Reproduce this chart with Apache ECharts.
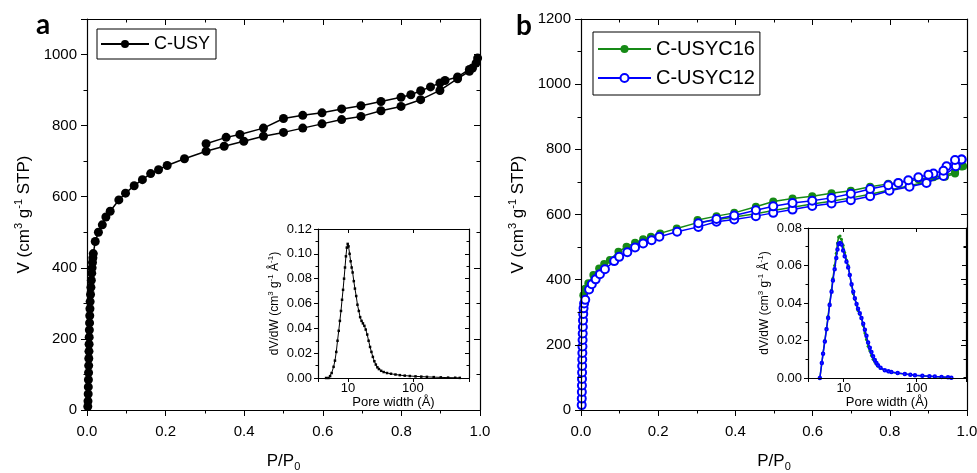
<!DOCTYPE html>
<html><head><meta charset="utf-8">
<script src="https://cdn.jsdelivr.net/npm/echarts@6/dist/echarts.min.js"></script>
<style>html,body{margin:0;padding:0;background:#fff}#c{width:977px;height:473px}</style>
</head><body><div id="c"></div>
<script>
// ---------- Panel a : C-USY isotherm ----------
const aAdsP = [0.002,0.0025,0.003,0.0033,0.0036,0.004,0.0043,0.0046,0.005,0.0053,0.0056,0.006,0.0065,0.007,0.0075,0.008,0.009,0.010,0.011,0.012,0.013,0.014,0.015,0.016,
  0.021,0.029,0.039,0.048,0.059,0.081,0.098,0.120,0.141,0.162,0.182,0.204,0.248,0.303,0.349,0.399,0.449,0.500,0.549,0.598,0.648,0.697,0.748,0.799,0.849,0.898,0.943,0.973,0.990];
const aAdsV = [10,25,45,65,85,105,125,145,165,185,205,225,245,265,285,305,325,345,365,385,400,415,428,440,
  474,500,521,543,559,591,610,631,648,665,676,688,707,728,742,756,770,781,793,805,817,826,842,854,873,899,932,953,976];
const aDesP = [0.994,0.981,0.973,0.943,0.911,0.898,0.874,0.849,0.824,0.799,0.748,0.697,0.648,0.598,0.549,0.500,0.449,0.389,0.354,0.303];
const aDesV = [990,962,958,937,927,920,909,898,887,880,868,856,847,836,829,820,793,775,767,749];

// ---------- Panel b : C-USYC16 / C-USYC12 isotherms ----------
const b16AdsP = [0.002,0.0025,0.003,0.0035,0.004,0.0045,0.005,0.006,0.011,
  0.019,0.032,0.047,0.060,0.075,0.097,0.118,0.140,0.161,0.181,0.205,0.248,0.302,0.351,0.397,0.453,0.498,0.548,0.599,0.649,0.699,0.749,0.799,0.851,0.895,0.943,0.969,0.986];
const b16AdsV = [20,60,100,140,180,230,290,352,372,
  389,414,434,448,460,486,501,513,524,532,542,557,575,584,592,602,612,622,632,641,651,662,675,688,700,716,726,747];
const b16DesP = [0.990,0.969,0.943,0.913,0.874,0.848,0.822,0.796,0.749,0.699,0.649,0.599,0.548,0.498,0.453,0.397,0.351,0.302];
const b16DesV = [748,730,720,714,708,703,698,694,685,673,665,656,649,640,624,605,595,583];

const b12AdsP = [0.0018,0.002,0.0022,0.0024,0.0026,0.0028,0.003,0.0032,0.0035,0.0038,0.0041,0.0044,0.0048,0.0052,0.0058,0.0066,0.008,0.011,
  0.021,0.028,0.038,0.049,0.062,0.086,0.099,0.120,0.140,0.161,0.183,0.203,0.249,0.304,0.351,0.397,0.453,0.498,0.548,0.599,0.649,0.699,0.749,0.799,0.851,0.895,0.939,0.971,0.986];
const b12AdsV = [15,35,55,75,95,115,135,155,175,195,215,235,255,275,295,312,327,338,
  370,386,401,417,432,457,470,484,499,511,521,532,547,562,578,585,595,605,615,626,634,644,656,673,685,697,718,748,769];
const b12DesP = [0.986,0.969,0.947,0.939,0.913,0.900,0.874,0.848,0.822,0.796,0.749,0.699,0.649,0.599,0.548,0.498,0.453,0.397,0.351,0.304];
const b12DesV = [769,767,748,734,726,722,714,705,697,690,678,664,651,642,635,625,613,597,586,573];

// ---------- Insets : pore size distributions ----------
const psdAW = [4.6,5.0,5.3,5.6,6.0,6.3,6.6,6.9,7.2,7.5,7.8,8.1,8.4,8.7,9.0,9.3,9.6,9.9,10.2,10.6,11.0,11.4,11.8,12.3,12.8,13.4,14.0,14.7,15.4,16.2,17.0,17.9,18.8,19.8,20.8,21.9,23.0,24.2,25.5,26.9,28.4,30.0,32.5,35.5,40,46,54,63,75,90,110,135,165,210,270,350,450,530];
const psdAV = [0,0,0.0015,0.004,0.009,0.014,0.021,0.030,0.038,0.046,0.054,0.063,0.071,0.080,0.089,0.098,0.105,0.108,0.106,0.100,0.094,0.089,0.085,0.078,0.072,0.066,0.059,0.054,0.049,0.046,0.044,0.042,0.039,0.035,0.030,0.025,0.021,0.017,0.0135,0.0108,0.0086,0.0072,0.0058,0.0048,0.0040,0.0034,0.0028,0.0023,0.0019,0.0016,0.0013,0.0011,0.0009,0.0007,0.0005,0.0003,0.0002,0.0001];

const psdBW = [4.7,5.0,5.2,5.5,5.8,6.1,6.4,6.8,7.1,7.5,7.9,8.2,8.5,8.9,9.3,9.8,10.3,10.9,11.5,12.1,12.8,13.5,14.2,15.0,15.7,16.6,17.5,18.5,19.5,20.5,21.6,22.8,24.0,25.3,26.7,28.1,29.5,32,36.6,41,45,55,69,82,95,120,150,178,220,270,300];
const psdB16 = [0,0.008,0.0133,0.020,0.0265,0.033,0.0398,0.047,0.0532,0.060,0.0665,0.072,0.0752,0.0757,0.074,0.0708,0.067,0.063,0.060,0.055,0.0494,0.045,0.042,0.039,0.036,0.034,0.0317,0.028,0.024,0.0205,0.017,0.0145,0.012,0.010,0.0085,0.0073,0.0063,0.0052,0.0040,0.0034,0.0030,0.0025,0.0021,0.0017,0.0014,0.0011,0.0009,0.0007,0.0005,0.0003,0.0001];
const psdB12 = [0,0.008,0.013,0.0195,0.026,0.032,0.039,0.046,0.052,0.058,0.064,0.0685,0.0715,0.072,0.0712,0.068,0.065,0.062,0.059,0.055,0.050,0.046,0.0425,0.0395,0.037,0.0345,0.032,0.029,0.0258,0.0225,0.019,0.0162,0.0139,0.0116,0.0096,0.0080,0.0068,0.0055,0.0042,0.0036,0.0032,0.0027,0.0022,0.0018,0.0015,0.0012,0.0010,0.0008,0.0006,0.0004,0.0002];

// ---------- tick values ----------
const mainXTicks = {min:0, max:1, interval:0.2};
const aYTicks = {min:0, max:1100, interval:200};
const bYTicks = {min:0, max:1200, interval:200};
const insetAY = {min:0, max:0.12, interval:0.02};
const insetBY = {min:0, max:0.08, interval:0.02};
const insetAX = {min:3.45, max:735};
const insetBX = {min:3.23, max:477};
const logLabels = [10, 100];

const FONT = '"Liberation Sans", Arial, sans-serif';
const pairs = (xs, ys) => xs.map((x, i) => [x, ys[i]]);
const BLACK = '#000';
const GREEN = '#168a16';
const BLUE = '#0000ff';

const axisLine = {show:true, onZero:false, lineStyle:{color:BLACK, width:1.2}};
const sup = {fontSize:11, verticalAlign:'top', lineHeight:22, fontFamily:FONT, color:BLACK};
const supS = {fontSize:8, verticalAlign:'top', lineHeight:16, fontFamily:FONT, color:BLACK};
const sub = {fontSize:11, verticalAlign:'bottom', lineHeight:22, fontFamily:FONT, color:BLACK};

function valAxis(grid, pos, t, opts) {
  const mirror = opts.mirror;
  return Object.assign({
    gridIndex: grid, type: 'value', position: pos,
    min: t.min, max: t.max, interval: t.interval,
    axisLine: axisLine,
    splitLine: {show:false},
    axisTick: {show:true, inside: !!mirror, length: opts.tickLen || 6, lineStyle:{color:BLACK, width:1}},
    minorTick: {show:true, splitNumber:2, length: opts.minorLen || 3.5, lineStyle:{color:BLACK, width:1}},
    axisLabel: mirror ? {show:false} : {show:true, color:BLACK, fontFamily:FONT, fontSize: opts.fontSize || 15, margin: opts.margin || 10, formatter: opts.fmt},
    z: 5
  }, opts.extra || {});
}
function logAxis(grid, pos, t, opts) {
  const mirror = opts.mirror;
  return Object.assign({
    gridIndex: grid, type: 'log', logBase: 10, position: pos,
    min: t.min, max: t.max,
    axisLine: axisLine,
    splitLine: {show:false},
    axisTick: {show:true, inside: !!mirror, length: 4, lineStyle:{color:BLACK, width:1}},
    minorTick: {show:false},
    axisLabel: mirror ? {show:false} : {show:true, color:BLACK, fontFamily:FONT, fontSize:13, margin:4,
      formatter: v => logLabels.some(l => Math.abs(v - l) < 1e-6 * l) ? String(Math.round(v)) : ''},
    z: 5
  }, opts.extra || {});
}

const xName = {name:'P/P{sub|0}', nameLocation:'middle', nameGap:40,
  nameTextStyle:{fontSize:17, fontFamily:FONT, color:BLACK, lineHeight:22, rich:{sub:sub}}};
const yName = {name:'V (cm{sup|3} g{sup|-1} STP)', nameLocation:'middle', nameGap:52,
  nameTextStyle:{fontSize:17, fontFamily:FONT, color:BLACK, lineHeight:22, rich:{sup:sup}}};
const insXName = {name:'Pore width (Å)', nameLocation:'middle', nameGap:18,
  nameTextStyle:{fontSize:13, fontFamily:FONT, color:BLACK}};
const insYName = {name:'dV/dW (cm{sup|3} g{sup|-1} Å{sup|-1})', nameLocation:'middle', nameGap:33,
  nameTextStyle:{fontSize:12, fontFamily:FONT, color:BLACK, lineHeight:16, rich:{sup:supS}}};

const f1 = v => v.toFixed(1);
const f2 = v => v.toFixed(2);
const fAY = v => (Math.abs(v % 200) < 1e-9 ? String(v) : '');
const fBY = v => String(v);

const gridBase = {containLabel:false, outerBoundsMode:'none'};
const option = {
  animation: false,
  backgroundColor: '#fff',
  grid: [
    Object.assign({left:87, top:19, width:393, height:391}, gridBase),
    Object.assign({left:318, top:229, width:151, height:149}, gridBase),
    Object.assign({left:581, top:19, width:386, height:391}, gridBase),
    Object.assign({left:808, top:228, width:158, height:150}, gridBase)
  ],
  xAxis: [
    valAxis(0, 'bottom', mainXTicks, {fmt:f1, margin:14, extra:xName}),
    valAxis(0, 'top', mainXTicks, {mirror:true}),
    logAxis(1, 'bottom', insetAX, {extra:insXName}),
    logAxis(1, 'top', insetAX, {mirror:true}),
    valAxis(2, 'bottom', mainXTicks, {fmt:f1, margin:14, extra:xName}),
    valAxis(2, 'top', mainXTicks, {mirror:true}),
    logAxis(3, 'bottom', insetBX, {extra:insXName}),
    logAxis(3, 'top', insetBX, {mirror:true})
  ],
  yAxis: [
    valAxis(0, 'left', aYTicks, {fmt:fAY, margin:10, extra:yName}),
    valAxis(0, 'right', aYTicks, {mirror:true}),
    valAxis(1, 'left', insetAY, {fmt:f2, fontSize:13, margin:6, tickLen:4, minorLen:2.5, extra:insYName}),
    valAxis(1, 'right', insetAY, {mirror:true, tickLen:4, minorLen:2.5}),
    valAxis(2, 'left', bYTicks, {fmt:fBY, margin:10, extra:yName}),
    valAxis(2, 'right', bYTicks, {mirror:true}),
    valAxis(3, 'left', insetBY, {fmt:f2, fontSize:13, margin:6, tickLen:4, minorLen:2.5, extra:insYName}),
    valAxis(3, 'right', insetBY, {mirror:true, tickLen:4, minorLen:2.5})
  ],
  legend: [
    {data:['C-USY'], left:97, top:29, orient:'vertical', borderColor:BLACK, borderWidth:1, borderRadius:0,
     padding:[5,6,5,3], itemWidth:48, itemHeight:10, itemGap:0, backgroundColor:'#fff', selectedMode:false,
     textStyle:{fontSize:18, fontFamily:FONT, color:BLACK, lineHeight:20}},
    {data:['C-USYC16','C-USYC12'], left:593, top:32, orient:'vertical', borderColor:BLACK, borderWidth:1, borderRadius:0,
     padding:[6,5,6,4], itemWidth:53, itemHeight:10, itemGap:7, backgroundColor:'#fff', selectedMode:false,
     textStyle:{fontSize:20, fontFamily:FONT, color:BLACK, lineHeight:22}}
  ],
  graphic: [
    {type:'text', left:36, top:11, style:{text:'a', font:'bold 28px Lato, "Liberation Sans", sans-serif', fill:BLACK}},
    {type:'text', left:516, top:12, style:{text:'b', font:'bold 28px Lato, "Liberation Sans", sans-serif', fill:BLACK}}
  ],
  series: [
    {type:'line', name:'C-USY', xAxisIndex:0, yAxisIndex:0, data:pairs(aAdsP, aAdsV), symbol:'circle', symbolSize:9, showAllSymbol:true,
     itemStyle:{color:BLACK}, lineStyle:{color:BLACK, width:1.5}, z:3},
    {type:'line', name:'C-USY', xAxisIndex:0, yAxisIndex:0, data:pairs(aDesP, aDesV), symbol:'circle', symbolSize:9, showAllSymbol:true,
     itemStyle:{color:BLACK}, lineStyle:{color:BLACK, width:1.5}, z:3},
    {type:'line', name:'psd-a', xAxisIndex:2, yAxisIndex:2, data:pairs(psdAW, psdAV), symbol:'rect', symbolSize:2.5, showAllSymbol:true,
     itemStyle:{color:BLACK}, lineStyle:{color:BLACK, width:1}, z:3},

    {type:'line', name:'C-USYC16', xAxisIndex:4, yAxisIndex:4, data:pairs(b16AdsP, b16AdsV), symbol:'circle', symbolSize:8, showAllSymbol:true,
     itemStyle:{color:GREEN}, lineStyle:{color:GREEN, width:1.5}, z:3},
    {type:'line', name:'C-USYC16', xAxisIndex:4, yAxisIndex:4, data:pairs(b16DesP, b16DesV), symbol:'circle', symbolSize:8, showAllSymbol:true,
     itemStyle:{color:GREEN}, lineStyle:{color:GREEN, width:1.5}, z:3},
    {type:'line', name:'C-USYC12', xAxisIndex:4, yAxisIndex:4, data:pairs(b12AdsP, b12AdsV), symbol:'emptyCircle', symbolSize:8, showAllSymbol:true,
     itemStyle:{color:BLUE, borderWidth:1.2}, lineStyle:{color:BLUE, width:1.5}, z:4},
    {type:'line', name:'C-USYC12', xAxisIndex:4, yAxisIndex:4, data:pairs(b12DesP, b12DesV), symbol:'emptyCircle', symbolSize:8, showAllSymbol:true,
     itemStyle:{color:BLUE, borderWidth:1.2}, lineStyle:{color:BLUE, width:1.5}, z:4},
    {type:'line', name:'psd-b16', xAxisIndex:6, yAxisIndex:6, data:pairs(psdBW, psdB16), symbol:'circle', symbolSize:3, showAllSymbol:true,
     itemStyle:{color:GREEN}, lineStyle:{color:GREEN, width:1.5}, z:3},
    {type:'line', name:'psd-b12', xAxisIndex:6, yAxisIndex:6, data:pairs(psdBW, psdB12), symbol:'emptyCircle', symbolSize:2.5, showAllSymbol:true,
     itemStyle:{color:BLUE, borderWidth:0.8}, lineStyle:{color:BLUE, width:1.5}, z:4}
  ]
};
const chart = echarts.init(document.getElementById('c'));
chart.setOption(option);
</script>
</body></html>
